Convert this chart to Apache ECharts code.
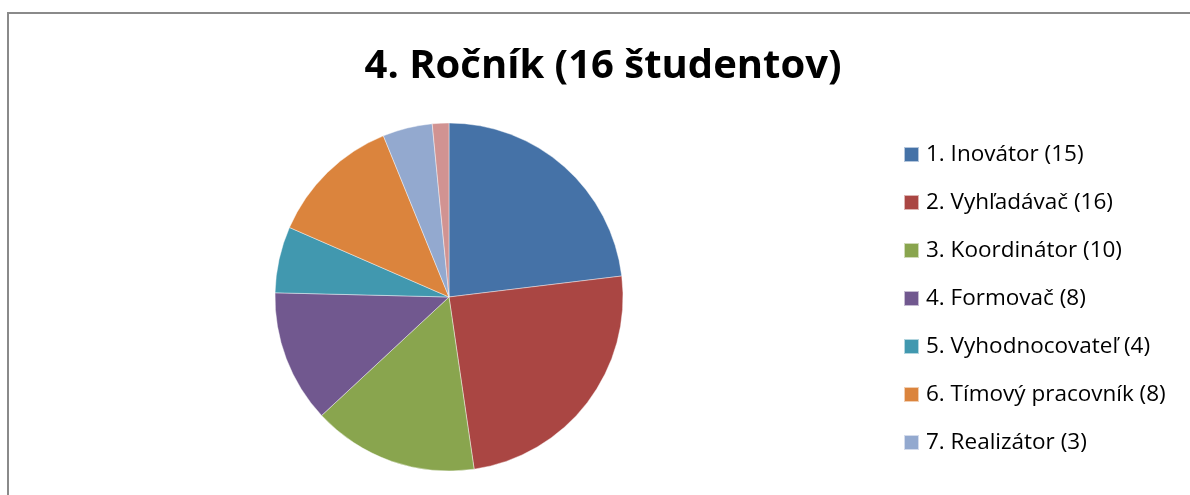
<!DOCTYPE html>
<html>
<head>
<meta charset="utf-8">
<script src="https://cdn.jsdelivr.net/npm/echarts@6/dist/echarts.min.js"></script>
<style>
html,body{margin:0;padding:0;background:#fff;}
#chart{width:1190px;height:495px;}
</style>
</head>
<body>
<div id="chart"></div>
<script>
const titleText = '4. Ročník (16 študentov)';
const categories = ['1. Inovátor (15)', '2. Vyhľadávač (16)', '3. Koordinátor (10)', '4. Formovač (8)', '5. Vyhodnocovateľ (4)', '6. Tímový pracovník (8)', '7. Realizátor (3)', '8. Dokončovateľ (1)'];
const values = [15, 16, 10, 8, 4, 8, 3, 1];
const colors = ['#4572A7', '#AA4643', '#89A54E', '#71588F', '#4198AF', '#DB843D', '#93A9CF', '#D19392'];
const legendShown = categories.slice(0, 7);

const chart = echarts.init(document.getElementById('chart'), null, {renderer: 'canvas'});
chart.setOption({
  animation: false,
  backgroundColor: '#fff',
  color: colors,
  title: {
    text: titleText,
    left: 603,
    textAlign: 'center',
    top: 47,
    padding: 0,
    textStyle: {fontFamily: 'Open Sans', fontWeight: 'bold', fontSize: 40, color: '#000'}
  },
  graphic: [{
    type: 'rect',
    shape: {x: 8, y: 13, width: 1200, height: 500},
    style: {fill: 'none', stroke: '#8a8a8a', lineWidth: 2},
    silent: true
  }],
  legend: {
    orient: 'vertical',
    left: 903,
    top: 143,
    padding: 0,
    itemWidth: 15,
    itemHeight: 15,
    itemGap: 25,
    icon: 'rect',
    data: legendShown,
    textStyle: {fontFamily: 'Open Sans', fontSize: 22.5, color: '#000', padding: [0, 0, 0, 2]}
  },
  series: [{
    type: 'pie',
    center: [449, 297],
    radius: 174,
    startAngle: 90,
    clockwise: true,
    label: {show: false},
    labelLine: {show: false},
    itemStyle: {borderColor: 'rgba(255,255,255,0.6)', borderWidth: 0.7},
    emphasis: {disabled: true},
    data: categories.map((c, i) => ({name: c, value: values[i]}))
  }]
});
</script>
</body>
</html>
